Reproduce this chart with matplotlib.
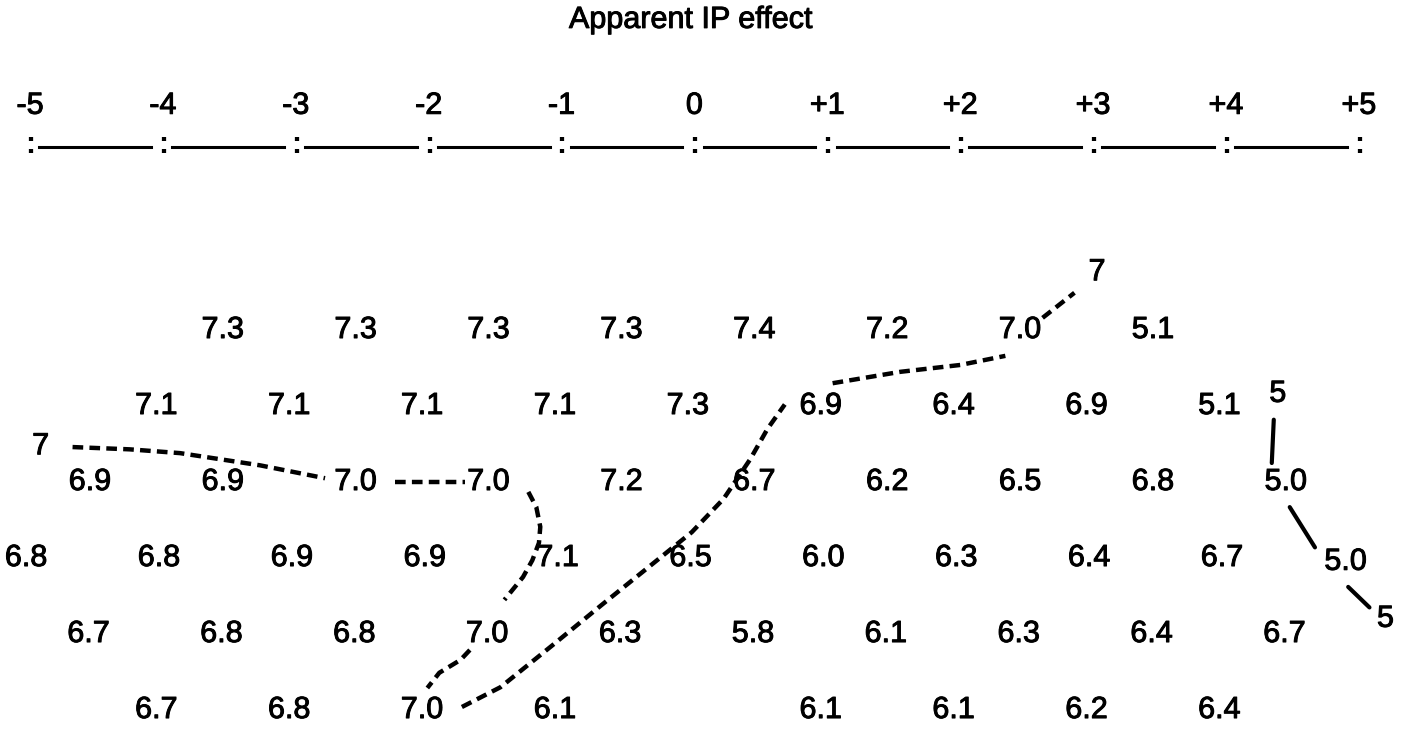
import matplotlib.pyplot as plt
import matplotlib.patheffects as pe
import numpy as np

plt.rcParams['font.family'] = ['Liberation Sans', 'DejaVu Sans']

# scale along the top
scale_ticks = [-5, -4, -3, -2, -1, 0, 1, 2, 3, 4, 5]
scale_labels = ['-5', '-4', '-3', '-2', '-1', '0', '+1', '+2', '+3', '+4', '+5']

# grid of values, one list per row (None = empty cell)
row1 = [7.3, 7.3, 7.3, 7.3, 7.4, 7.2, 7.0, 5.1]
row2 = [7.1, 7.1, 7.1, 7.1, 7.3, 6.9, 6.4, 6.9, 5.1]
row3 = [6.9, 6.9, 7.0, 7.0, 7.2, 6.7, 6.2, 6.5, 6.8, 5.0]
row4 = [6.8, 6.8, 6.9, 6.9, 7.1, 6.5, 6.0, 6.3, 6.4, 6.7]
row5 = [6.7, 6.8, 6.8, 7.0, 6.3, 5.8, 6.1, 6.3, 6.4, 6.7]
row6 = [6.7, 6.8, 7.0, 6.1, None, 6.1, 6.1, 6.2, 6.4]
rows = [row1, row2, row3, row4, row5, row6]
row_starts = [-3.55, -4.05, -4.55, -5.03, -4.56, -4.05]

# contour labels (text, x on IP scale, row)
contour_labels = ['7', '7', '5', '5.0', '5']
contour_label_x = [3.03, -4.92, 4.39, 4.90, 5.20]
contour_label_r = [-0.76, 1.53, 0.84, 3.05, 3.80]

# 7 contour (dashed), drawn as pieces between the numbers
seven_pieces = [
    ([-4.68, -4.25, -3.87, -3.27, -2.78], [1.54, 1.57, 1.62, 1.78, 1.95]),
    ([-2.25, -1.73], [2.0, 2.0]),
    ([-1.25, -1.19, -1.16, -1.17, -1.22, -1.29, -1.43],
     [2.13, 2.33, 2.59, 2.80, 3.03, 3.25, 3.55]),
    ([-1.69, -1.76, -1.92, -2.01], [4.21, 4.34, 4.51, 4.71]),
    ([-1.75, -1.46, -1.07, -0.70, -0.31, -0.02, 0.22, 0.42, 0.55, 0.68],
     [4.96, 4.70, 4.15, 3.62, 3.07, 2.66, 2.22, 1.70, 1.30, 0.98]),
    ([1.04, 1.55, 2.0, 2.34], [0.70, 0.55, 0.46, 0.34]),
    ([2.62, 2.86], [-0.16, -0.49]),
]

# 5 contour (solid)
five_pieces = [
    ([4.36, 4.345], [1.18, 1.75]),
    ([4.48, 4.67], [2.33, 2.86]),
    ([4.92, 5.08], [3.38, 3.65]),
]

fig = plt.figure(figsize=(14.23, 7.32), dpi=100)
ax = fig.add_axes([0, 0, 1, 1])
ax.set_xlim(-5.226, 5.483)
ax.set_ylim(5.289, -4.342)
ax.axis('off')

fs = 22
# scanned type looks a little heavy
ink = [pe.withStroke(linewidth=0.7, foreground='black')]

# title and scale
ax.text(-0.03, -4.08, 'Apparent IP effect', fontsize=22, ha='center', va='center',
        path_effects=ink)
line_r = -2.41
for t, lab in zip(scale_ticks, scale_labels):
    ax.text(t, -2.95, lab, fontsize=fs, ha='center', va='center', path_effects=ink)
    ax.text(t, line_r - 0.02, ':', fontsize=fs, fontweight='bold', ha='center', va='center')
for t in scale_ticks[:-1]:
    ax.plot([t + 0.07, t + 0.91], [line_r, line_r], color='black', lw=2.2)

# numbers
for r, (vals, x0) in enumerate(zip(rows, row_starts)):
    for k, v in enumerate(vals):
        if v is None:
            continue
        ax.text(x0 + k, r, f'{v:.1f}', fontsize=fs, ha='center', va='center',
                path_effects=ink)

for lab, x, r in zip(contour_labels, contour_label_x, contour_label_r):
    ax.text(x, r, lab, fontsize=fs, ha='center', va='center', path_effects=ink)

for xs, ys in seven_pieces:
    ax.plot(xs, ys, color='black', lw=3.2, linestyle=(0, (2.4, 1.4)))
for xs, ys in five_pieces:
    ax.plot(xs, ys, color='black', lw=3.0, solid_capstyle='round')

fig.savefig('out.png', dpi=100)
